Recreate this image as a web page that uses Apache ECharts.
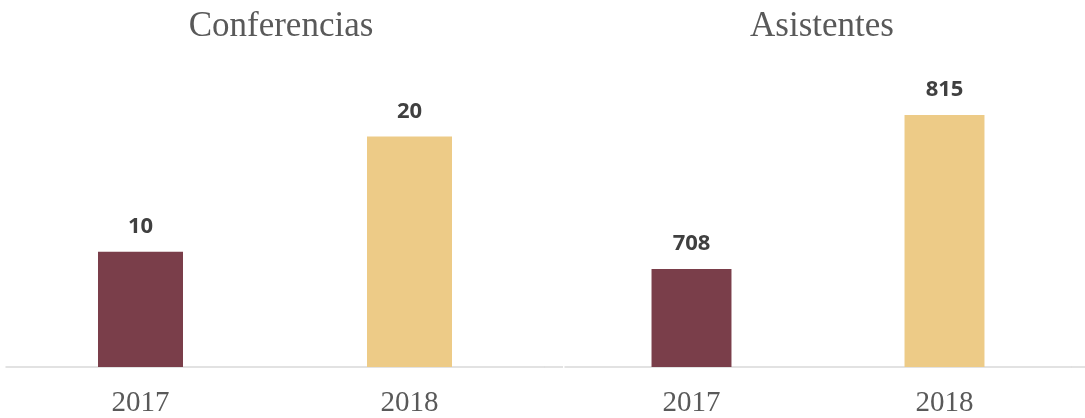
<!DOCTYPE html>
<html>
<head>
<meta charset="utf-8">
<title>Conferencias y Asistentes</title>
<script src="https://cdn.jsdelivr.net/npm/echarts@6/dist/echarts.min.js"></script>
<style>
  html, body { margin: 0; padding: 0; background: #fff; }
  #chart { width: 1085px; height: 418px; }
</style>
</head>
<body>
<div id="chart"></div>
<script>
// data
const years = ['2017', '2018'];
const conferencias = [10, 20];
const asistentes = [708, 815];
const barColors = ['#7A3E4A', '#EDCB87'];
const titles = ['Conferencias', 'Asistentes'];

const serif = '"Liberation Serif", "DejaVu Serif", serif';
const sans = '"Open Sans", "Noto Sans", sans-serif';

const chart = echarts.init(document.getElementById('chart'));

function colored(values) {
  return values.map((v, i) => ({ value: v, itemStyle: { color: barColors[i] } }));
}

const axisLine = { show: true, lineStyle: { color: '#d9d9d9', width: 1.5 } };

const xAxisBase = {
  type: 'category',
  data: years,
  axisLine: axisLine,
  axisTick: { show: false },
  axisLabel: { color: '#595959', fontFamily: serif, fontSize: 29, margin: 22 }
};

const labelBase = {
  show: true,
  position: 'top',
  distance: 14,
  color: '#404040',
  fontFamily: sans,
  fontWeight: 'bold',
  fontSize: 22
};

const titleStyle = { color: '#595959', fontFamily: serif, fontWeight: 'normal', fontSize: 35 };

const option = {
  animation: false,
  title: [
    { text: titles[0], left: 276, top: 4, textAlign: 'center', textStyle: titleStyle },
    { text: titles[1], left: 817, top: 4, textAlign: 'center', textStyle: titleStyle }
  ],
  grid: [
    { left: 6, width: 538, top: 79, height: 288 },
    { left: 565, width: 506, top: 79, height: 288 }
  ],
  xAxis: [
    Object.assign({ gridIndex: 0 }, xAxisBase),
    Object.assign({ gridIndex: 1 }, xAxisBase)
  ],
  yAxis: [
    { gridIndex: 0, type: 'value', min: 0, max: 25, show: false },
    { gridIndex: 1, type: 'value', min: 640, max: 840, show: false }
  ],
  // the baseline runs on past the plot edges in the original
  graphic: [
    { type: 'line', shape: { x1: 544, y1: 367, x2: 563, y2: 367 }, style: { stroke: '#d9d9d9', lineWidth: 1.5 } },
    { type: 'line', shape: { x1: 1071, y1: 367, x2: 1085, y2: 367 }, style: { stroke: '#d9d9d9', lineWidth: 1.5 } }
  ],
  series: [
    {
      name: titles[0],
      type: 'bar',
      xAxisIndex: 0,
      yAxisIndex: 0,
      barWidth: '31.6%',
      data: colored(conferencias),
      label: labelBase
    },
    {
      name: titles[1],
      type: 'bar',
      xAxisIndex: 1,
      yAxisIndex: 1,
      barWidth: '31.6%',
      data: colored(asistentes),
      label: labelBase
    }
  ]
};

chart.setOption(option);
</script>
</body>
</html>
